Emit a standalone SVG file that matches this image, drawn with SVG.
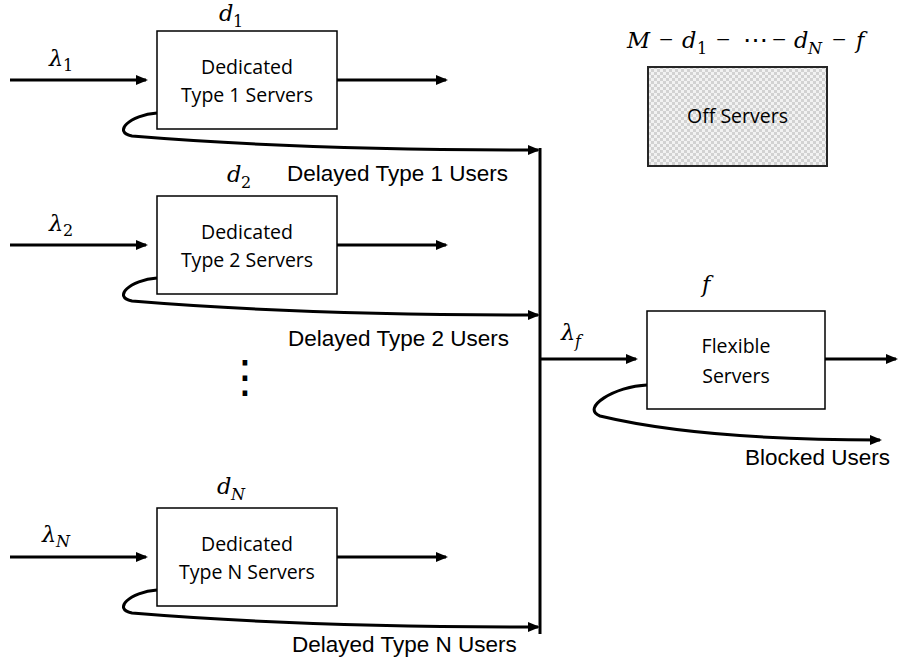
<svg xmlns="http://www.w3.org/2000/svg" width="900" height="659" viewBox="0 0 900 659">
<defs>
<marker id="ah" markerUnits="userSpaceOnUse" markerWidth="12" markerHeight="10" refX="10" refY="5" orient="auto" viewBox="0 0 12 10">
<path d="M0,0 L12,5 L0,10 z" fill="#000"/>
</marker>
<pattern id="chk" patternUnits="userSpaceOnUse" width="6" height="6">
<rect width="6" height="6" fill="#f2f2f2"/>
<rect width="3" height="3" fill="#d2d2d2"/>
<rect x="3" y="3" width="3" height="3" fill="#d2d2d2"/>
</pattern>
</defs>
<style>
.box{fill:#fff;stroke:#000;stroke-width:1.5}
.off{fill:url(#chk);stroke:#262626;stroke-width:2}
.bt{font-family:"Open Sans","Noto Sans",sans-serif;font-size:19.5px;fill:#000;text-anchor:middle}
.lb{font-family:"Liberation Sans",Arial,sans-serif;font-size:22.5px;fill:#000}
.m{font-family:"DejaVu Serif",serif;font-style:italic;font-size:22.5px;fill:#000}
.mr{font-family:"Liberation Serif","DejaVu Serif",serif;font-size:25px;fill:#000}
.s{font-family:"DejaVu Serif",serif;font-size:16px;fill:#000}
.si{font-family:"DejaVu Serif",serif;font-style:italic;font-size:16px;fill:#000}
.c{fill:none;stroke:#000;stroke-width:3}
.ca{fill:none;stroke:#000;stroke-width:3;marker-end:url(#ah)}
</style>

<g id="connectors">
<line class="ca" x1="10" y1="80" x2="146" y2="80"/>
<line class="ca" x1="337" y1="80" x2="446" y2="80"/>
<path class="ca" d="M157,113 C130,115 112,132 132,136 Q300,150 538,150"/>
<line class="ca" x1="10" y1="245" x2="146" y2="245"/>
<line class="ca" x1="337" y1="245" x2="446" y2="245"/>
<path class="ca" d="M157,278 C130,280 112,297 132,301 Q300,315 538,315"/>
<line class="ca" x1="10" y1="557" x2="146" y2="557"/>
<line class="ca" x1="337" y1="557" x2="446" y2="557"/>
<path class="ca" d="M157,590 C130,592 112,609 132,613 Q300,627 538,627"/>
<line class="c" x1="540" y1="148" x2="540" y2="634"/>
<line class="ca" x1="540" y1="359" x2="636" y2="359"/>
<line class="ca" x1="825" y1="359" x2="896" y2="359"/>
<path class="ca" d="M647,385 C615,386 580,408 600,416 Q700,440 880,440"/>
</g>

<g id="box1">
<rect class="box" x="157" y="31" width="180" height="98"/>
<text class="bt" x="247" y="74">Dedicated</text>
<text class="bt" x="247" y="102">Type 1 Servers</text>
</g>
<g id="box2">
<rect class="box" x="157" y="196" width="180" height="98"/>
<text class="bt" x="247" y="239">Dedicated</text>
<text class="bt" x="247" y="267">Type 2 Servers</text>
</g>
<g id="boxN">
<rect class="box" x="157" y="508" width="180" height="98"/>
<text class="bt" x="247" y="551">Dedicated</text>
<text class="bt" x="247" y="579">Type N Servers</text>
</g>
<g id="flexible">
<rect class="box" x="647" y="311" width="178" height="98"/>
<text class="bt" x="736" y="353">Flexible</text>
<text class="bt" x="736" y="383">Servers</text>
</g>
<g id="off">
<rect class="off" x="648" y="67" width="179" height="99"/>
<text class="bt" x="737.5" y="123">Off Servers</text>
</g>

<g id="labels">
<text class="m" x="219" y="21">d</text><text class="s" x="233" y="27">1</text>
<text class="m" x="227" y="182">d</text><text class="s" x="241" y="188">2</text>
<text class="m" x="217" y="494">d</text><text class="si" x="231" y="500">N</text>
<text class="m" x="49" y="66">λ</text><text class="s" x="63" y="71">1</text>
<text class="m" x="49" y="231">λ</text><text class="s" x="63" y="236">2</text>
<text class="m" x="42" y="542">λ</text><text class="si" x="56" y="547">N</text>
<text class="m" x="561" y="340">λ</text><text class="si" x="575" y="347">f</text>
<text class="m" x="702" y="292">f</text>
<text class="m" x="627" y="48">M</text>
<text class="mr" x="659" y="48">−</text>
<text class="m" x="682" y="48">d</text><text class="s" x="697" y="54">1</text>
<text class="mr" x="716" y="48">−</text>
<text class="mr" x="743" y="48">⋯</text>
<text class="mr" x="772" y="48">−</text>
<text class="m" x="794" y="48">d</text><text class="si" x="808" y="54">N</text>
<text class="mr" x="832" y="48">−</text>
<text class="m" x="856" y="48">f</text>
<text class="lb" x="287" y="181">Delayed Type 1 Users</text>
<text class="lb" x="288" y="346">Delayed Type 2 Users</text>
<text class="lb" x="292" y="652">Delayed Type N Users</text>
<text class="lb" x="890" y="465" text-anchor="end">Blocked Users</text>
<text x="245" y="392" style="font-family:'DejaVu Sans',sans-serif;font-size:45px;text-anchor:middle">⋮</text>
</g>
</svg>
